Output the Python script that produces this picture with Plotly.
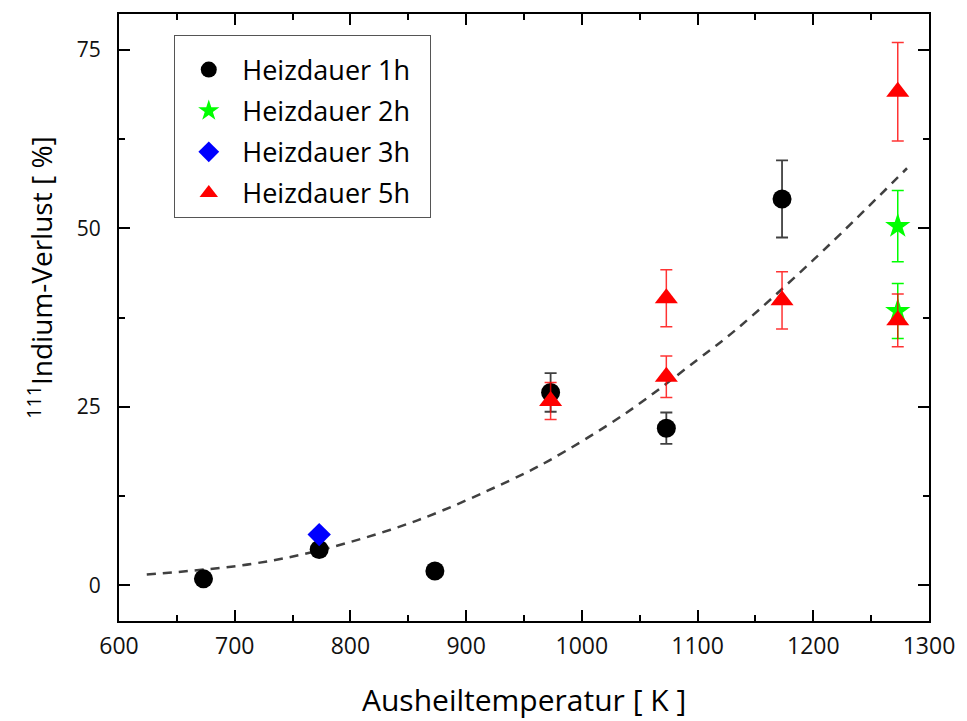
import plotly.graph_objects as go

# ---- data ----
t1h = [673, 773, 873, 973, 1073, 1173]
v1h = [0.9, 5.0, 2.0, 27.0, 22.0, 54.1]
e1h = [0.0, 0.0, 0.0, 2.7, 2.2, 5.4]

t2h = [1273, 1273]
v2h = [50.3, 38.4]
e2h = [5.0, 3.85]

t3h = [773]
v3h = [7.1]

t5h = [973, 1073, 1073, 1173, 1273, 1273]
v5h = [25.8, 40.2, 29.2, 39.9, 69.1, 37.1]
e5h = [2.6, 4.0, 2.9, 4.0, 6.9, 3.7]

fit_t = [624, 715, 778, 858, 938, 972, 1038, 1100, 1134, 1201, 1281]
fit_v = [1.5, 3.0, 5.1, 9.1, 14.7, 17.5, 24.1, 31.6, 35.9, 45.7, 58.4]

x_ticks = [600, 700, 800, 900, 1000, 1100, 1200, 1300]
y_ticks = [0, 25, 50, 75]

series_names = ["Heizdauer 1h", "Heizdauer 2h", "Heizdauer 3h", "Heizdauer 5h"]

FONT = "Open Sans, Noto Sans, sans-serif"
PAD = "&nbsp;&nbsp;"

fig = go.Figure()

fig.add_trace(go.Scatter(
    x=fit_t, y=fit_v, mode="lines", line=dict(color="#404040", width=2.5, dash="9px,7px", shape="spline"),
    showlegend=False, hoverinfo="skip"))

fig.add_trace(go.Scatter(
    x=t1h, y=v1h, mode="markers", name=series_names[0] + PAD, legendgroup="g1",
    marker=dict(symbol="circle", size=19, color="black"),
    error_y=dict(type="data", array=e1h, visible=True, color="rgba(0,0,0,0.75)", thickness=1.8, width=6)))

fig.add_trace(go.Scatter(
    x=t2h, y=v2h, mode="markers", name=series_names[1] + PAD, legendgroup="g2",
    marker=dict(symbol="star", size=19, color="#00ff00"),
    error_y=dict(type="data", array=e2h, visible=True, color="#00ff00", thickness=1.5, width=6)))

fig.add_trace(go.Scatter(
    x=t3h, y=v3h, mode="markers", name=series_names[2] + PAD, legendgroup="g3",
    marker=dict(symbol="diamond", size=18, color="#0000ff")))

fig.add_trace(go.Scatter(
    x=t5h, y=v5h, mode="markers", name=series_names[3] + PAD, legendgroup="g5",
    marker=dict(symbol="triangle-up", size=20, color="#ff0000"),
    error_y=dict(type="data", array=e5h, visible=True, color="rgba(255,0,0,0.8)", thickness=1.5, width=6)))

axis_common = dict(
    showline=True, linecolor="black", linewidth=2, mirror="ticks",
    ticks="inside", ticklen=11, tickwidth=2, tickcolor="black",
    showgrid=False, zeroline=False, ticklabeloverflow="allow",
)

fig.update_xaxes(
    range=[600, 1300], tickvals=x_ticks, ticktext=[str(v) for v in x_ticks],
    tickfont=dict(family=FONT, size=23, color="#111"),
    minor=dict(dtick=50, ticks="inside", ticklen=6, tickwidth=1.5, tickcolor="black", showgrid=False),
    ticklabelstandoff=3,
    **axis_common)

fig.update_yaxes(
    range=[-5, 80], tickvals=y_ticks, ticktext=[str(v) for v in y_ticks],
    tickfont=dict(family=FONT, size=21, color="#111"),
    minor=dict(dtick=12.5, ticks="inside", ticklen=6, tickwidth=1.5, tickcolor="black", showgrid=False),
    ticklabelstandoff=12,
    **axis_common)

fig.update_layout(
    width=967, height=721,
    margin=dict(l=119, r=30, t=13, b=100),
    paper_bgcolor="white", plot_bgcolor="white",
    font=dict(family=FONT, color="black"),
    legend=dict(
        x=0.068, y=0.965, xanchor="left", yanchor="top",
        bgcolor="white", bordercolor="#555", borderwidth=1.2,
        font=dict(family=FONT, size=27, color="black"),
        itemwidth=57, tracegroupgap=3,
        title=dict(text=" ", font=dict(size=7)),
    ),
    annotations=[
        dict(text="Ausheiltemperatur [ K ]", xref="paper", yref="paper", x=0.5, y=-0.13,
             xanchor="center", yanchor="middle", showarrow=False,
             font=dict(family=FONT, size=30, color="black")),
        dict(text="<sup>111</sup>Indium-Verlust [ %]", xref="paper", yref="paper", x=-0.098, y=0.565,
             xanchor="center", yanchor="middle", showarrow=False, textangle=-90,
             font=dict(family=FONT, size=28, color="black")),
    ],
)

fig.write_html("out.html")
